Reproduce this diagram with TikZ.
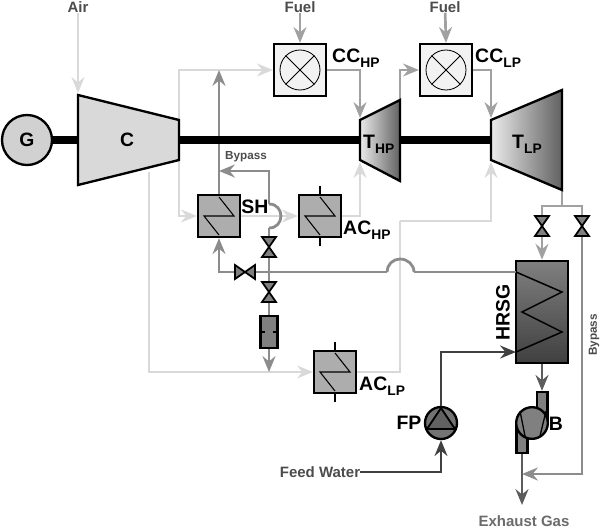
\documentclass[tikz,border=0pt]{standalone}
\usepackage{fontspec}
\setmainfont{Liberation Sans}
\usetikzlibrary{arrows.meta}
\usetikzlibrary{positioning}

\definecolor{airgray}{gray}{0.85}
\definecolor{fuelgray}{gray}{0.63}
\definecolor{steamgray}{gray}{0.55}
\definecolor{watergray}{gray}{0.25}
\definecolor{gasgray}{gray}{0.36}
\definecolor{txtgray}{gray}{0.3}

\newcommand{\biglabel}[2]{#1\raisebox{-4.6pt}{\fontsize{11.8}{12}\selectfont #2}}

\tikzset{
  air/.style={draw=airgray,line width=2.3pt},
  fuel/.style={draw=fuelgray,line width=2.3pt},
  steam/.style={draw=steamgray,line width=2.4pt},
  water/.style={draw=watergray,line width=2.2pt},
  gas/.style={draw=gasgray,line width=2.5pt},
  body/.style={draw,line width=2pt,join=miter},
  ccbox/.style={draw,line width=2.2pt,fill=black!5,minimum size=1.55cm,inner sep=0},
  flame/.style={draw,line width=0.7pt,circle,fill=black!5,minimum size=1.2cm,inner sep=0},
  hxbox/.style={draw,line width=2.2pt,fill=black!32,minimum size=1.25cm,inner sep=0},
  zig/.style={draw,line width=0.9pt},
  biglbl/.style={inner sep=0,font=\fontsize{16.6}{18}\bfseries\selectfont},
  smalllbl/.style={inner sep=0,text=txtgray,font=\fontsize{12.8}{14}\bfseries\selectfont},
  tinylbl/.style={inner sep=0,text=txtgray,font=\fontsize{10}{11}\bfseries\selectfont},
  valve/.pic={
    \filldraw[fill=black!50,line width=1.5pt,line join=miter]
      (-7,-10) -- (7,-10) -- (-7,10) -- (7,10) -- cycle;
  }
}

\begin{document}
\begin{tikzpicture}
[x=0.03cm,y=-0.03cm,>={Stealth[length=13.5pt,width=11pt,inset=4.5pt]}]
\useasboundingbox (0,0) rectangle (601,528);
%% equipment centres and free ends
\coordinate (Cout) at (179,140);
\coordinate (Cdown) at (149,172);
\coordinate (Cair) at (78,93);
\coordinate (THPc) at (380,140);
\coordinate (TLPc) at (527,140);
\coordinate (THPin) at (360,118);
\coordinate (THPout) at (400,100);
\coordinate (THPcool) at (360,162);
\coordinate (TLPin) at (491,118);
\coordinate (TLPout) at (562,190);
\coordinate (TLPcool) at (491,162);
\coordinate (split) at (562,206);
\coordinate (riser) at (400,221);
\coordinate (tee) at (219,171);
\coordinate (lift) at (219,70);
\coordinate (junctionB) at (269,204);
\coordinate (junctionC) at (269,228);
\coordinate (vlvA) at (269,247);
\coordinate (vlvB) at (269,292);
\coordinate (vlvC) at (245,272);
\coordinate (vlvD) at (542,226);
\coordinate (vlvE) at (582,226);
\coordinate (mix) at (269,372);
\coordinate (humpL) at (387,272);
\coordinate (humpT) at (400,259);
\coordinate (humpR) at (414,272);
\coordinate (hrsgIn) at (516,272);
\coordinate (hrsgFeed) at (516,352);
\coordinate (stack) at (522,505);
\coordinate (stackTee) at (522,474);

%% nodes
\node[ccbox] (CCHP) at (300,70) {};
\node[ccbox] (CCLP) at (446,70) {};
\node[hxbox] (SH) at (219,216) {};
\node[hxbox] (ACHP) at (320,216) {};
\node[hxbox] (ACLP) at (335,372) {};
\node[draw,line width=2.2pt,fill=black!50,minimum width=0.5cm,minimum height=0.96cm,inner sep=0] (SEP) at (269,332) {};
\node[draw,line width=2.2pt,top color=black!50,bottom color=black!75,minimum width=1.56cm,minimum height=3.06cm,inner sep=0] (HRSG) at (542,312) {};
\node[smalllbl] (air) at (78,7) {Air};
\node[smalllbl] (fuelHP) at (300,7) {Fuel};
\node[smalllbl] (fuelLP) at (445,7) {Fuel};
\node[smalllbl] (feed) at (320,472) {Feed Water};
\node[smalllbl,text=black!58] (exhaust) at (524,521) {Exhaust Gas};
\node[tinylbl] (bypassA) at (246,157) {Bypass};
\node[tinylbl,rotate=90] (bypassB) at (594,335) {Bypass};

%% air lines
\draw[air,->] (air) -- (Cair);
\draw[air,->] (Cout) |- (CCHP.west);
\draw[air,->] (Cout) |- (SH.west);
\draw[air,->] (SH.east) -- (ACHP.west);
\draw[air,->] (ACHP.east) -| (THPcool);
\draw[air,->] (Cdown) |- (ACLP.west);
\draw[air] (ACLP.east) -| (riser);
\draw[air,->] (riser) -| (TLPcool);

%% fuel and hot gas lines
\draw[fuel,->] (fuelHP) -- (CCHP.north);
\draw[fuel,->] (fuelLP) -- (CCLP.north);
\draw[fuel,->] (CCHP.east) -| (THPin);
\draw[fuel,->] (CCLP.east) -| (TLPin);
\draw[fuel,->] (THPout) |- (CCLP.west);
\draw[fuel] (TLPout) -- (split);
\draw[fuel] (vlvD) |- (split) -| (vlvE);
\draw[fuel,->] (vlvD) -- (HRSG.north);

%% steam lines
\draw[steam,->] (SH.north) -- (lift);
\draw[steam,->] (junctionB) |- (tee);
\draw[steam] (junctionB) to[out=0,in=0,looseness=1.7] (junctionC);
\draw[steam] (junctionC) -- (SEP.north);
\draw[steam,->] (SEP.south) -- (mix);
\draw[steam] (humpR) -- (hrsgIn);
\draw[steam] (humpR) to[out=90,in=0] (humpT) to[out=180,in=90] (humpL);
\draw[steam,->] (humpL) -| (SH.south);
\draw[steam,->] (vlvE) |- (stackTee);

%% feed water and exhaust
\node[draw,line width=2pt,fill=black!55,circle,minimum size=0.96cm,inner sep=0] (FP) at (441,423) {};
\draw[water,->] (FP.north) |- (hrsgFeed);
\draw[water,->] (feed.east) -| (FP.south);
\node[draw,line width=2pt,fill=black!50,minimum width=0.32cm,minimum height=0.9cm,inner sep=0] (Bout) at (542,407) {};
\node[draw,line width=2pt,fill=black!50,minimum width=0.33cm,minimum height=0.9cm,inner sep=0] (Bin) at (522,438) {};
\node[draw,line width=2pt,fill=black!50,circle,minimum size=0.95cm,inner sep=0] (B) at (532,423) {};
\draw[gas,->] (HRSG.south) -- (Bout.north);
\draw[gas,->] (Bin.south) -- (stack);

%% rotating machines on the shaft
\draw[line width=6.2pt] (27,140) -- (Cout) -- (THPc) -- (TLPc);
\node[draw,line width=2pt,fill=black!18,circle,minimum size=1.5cm,inner sep=0,font=\fontsize{16.5}{20}\bfseries\selectfont] (G) at (27,140) {G};
\filldraw[body,fill=black!15] (78,95) -- (179,120) -- (179,160) -- (78,185) -- cycle;
\node[inner sep=0,font=\fontsize{16.5}{20}\bfseries\selectfont] (C) at (127,140) {C};
\path[body,left color=black!8,right color=black!62] (360,120) -- (400,100) -- (400,181) -- (360,160) -- cycle;
\path[body,left color=black!8,right color=black!62] (491,120) -- (562,90) -- (562,190) -- (491,160) -- cycle;

%% burners, exchangers and other inner details
\foreach \cc in {CCHP,CCLP} {
  \node[flame] (\cc flame) at (\cc) {};
  \draw[line width=0.7pt] (\cc flame.north west) -- (\cc flame.south east);
  \draw[line width=0.7pt] (\cc flame.north east) -- (\cc flame.south west);
}
\foreach \hx in {SH,ACHP,ACLP} {
  \draw[zig] ([shift={(0,-19)}]\hx.center) -- ++(15,19) -- ++(-30,0) -- ++(15,19);
}
\draw[line width=0.9pt] ([yshift=0.25cm]ACHP.north) -- (ACHP.north);
\draw[line width=0.9pt] ([yshift=-0.25cm]ACHP.south) -- (ACHP.south);
\draw[line width=0.9pt] ([yshift=0.25cm]ACLP.north) -- (ACLP.north);
\draw[line width=0.9pt] ([yshift=-0.25cm]ACLP.south) -- (ACLP.south);
\draw[line width=1.3pt] (hrsgIn) -- (562,292) -- (522,312) -- (562,332) -- (hrsgFeed);
\draw[line width=1.6pt] (SEP.west) -- ++(6,0);
\draw[line width=1.6pt] (SEP.east) -- ++(-6,0);
\filldraw[fill=black!62,line width=1.6pt,line join=miter] (441,408) -- (455,429) -- (427,429) -- cycle;
\draw[line width=1.4pt] (425,429) -- (457,429);
\draw[line width=1.1pt] (520,411) -- (525,436);
\draw[line width=1.1pt] (546,411) -- (540,436);

%% valves
\pic at (vlvA) {valve};
\pic at (vlvB) {valve};
\pic[rotate=90] at (vlvC) {valve};
\pic at (vlvD) {valve};
\pic at (vlvE) {valve};

%% labels
\node[biglbl,anchor=base west] (CCHPlbl) at (332,62) {\biglabel{CC}{HP}};
\node[biglbl,anchor=base west] (CCLPlbl) at (475,62) {\biglabel{CC}{LP}};
\node[biglbl,anchor=base west] (THPlbl) at (363,148) {\biglabel{T}{HP}};
\node[biglbl,anchor=base west] (TLPlbl) at (512,148) {\biglabel{T}{LP}};
\node[biglbl,anchor=base west] (ACHPlbl) at (343,234) {\biglabel{AC}{HP}};
\node[biglbl,anchor=base west] (ACLPlbl) at (359,390) {\biglabel{AC}{LP}};
\node[biglbl] (SHlbl) at (255,207) {SH};
\node[biglbl,rotate=90] (HRSGlbl) at (503,312) {HRSG};
\node[biglbl] (FPlbl) at (409,423) {FP};
\node[biglbl] (Blbl) at (556,424) {B};
\end{tikzpicture}
\end{document}
